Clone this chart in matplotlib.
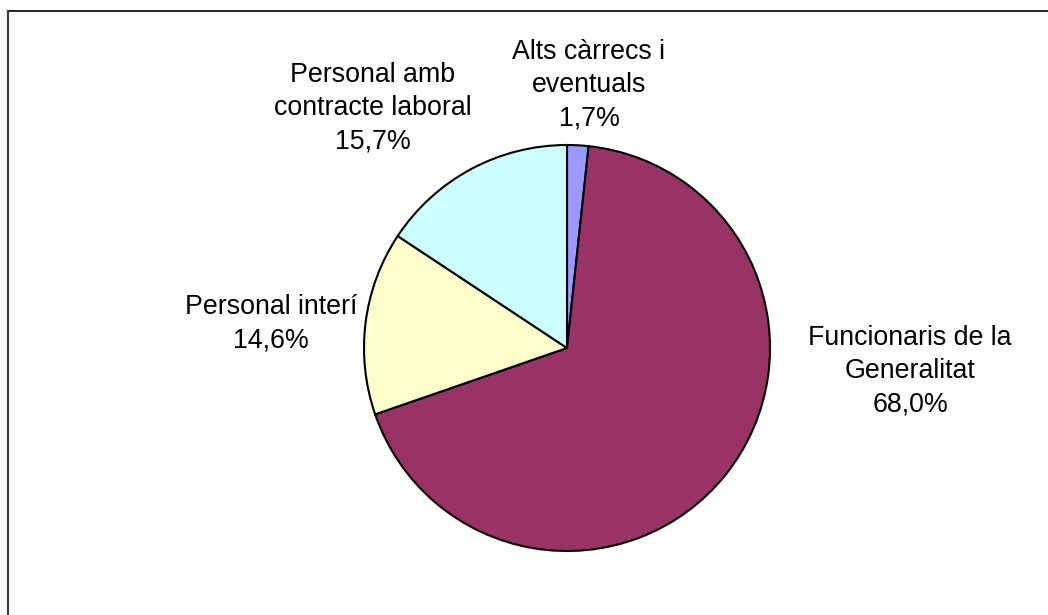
import matplotlib
matplotlib.use("Agg")
import matplotlib.pyplot as plt
from matplotlib.lines import Line2D

# data
labels = ["Alts càrrecs i\neventuals", "Funcionaris de la\nGeneralitat",
          "Personal interí", "Personal amb\ncontracte laboral"]
pct = [1.7, 68.0, 14.6, 15.7]
colors = ["#9999FF", "#993366", "#FFFFCC", "#CCFFFF"]

plt.rcParams['font.family'] = ['Liberation Sans', 'DejaVu Sans']

W, H = 1048, 615
fig = plt.figure(figsize=(W / 100, H / 100), dpi=100)
fig.set_facecolor('white')

# pie centre and radius in pixels
cx, cy, r = 567, 348, 203
ax = fig.add_axes([(cx - r) / W, (H - cy - r) / H, 2 * r / W, 2 * r / H])
ax.pie(pct, colors=colors, startangle=90, counterclock=False,
       wedgeprops={'edgecolor': 'black', 'linewidth': 1.5})
ax.set_xlim(-1, 1)
ax.set_ylim(-1, 1)
ax.axis('off')

# label positions (pixel centres)
label_pos = [(589, 85), (910, 371), (271, 324), (373, 108)]
for lab, p, (x, y) in zip(labels, pct, label_pos):
    txt = lab + "\n" + ("%.1f%%" % p).replace(".", ",")
    fig.text(x / W, 1 - y / H, txt, ha='center', va='center',
             fontsize=19.3, linespacing=1.36, color='black')

# frame edges (cropped chart area)
fig.add_artist(Line2D([7.5 / W, 1], [1 - 10.5 / H, 1 - 10.5 / H],
                      color='black', lw=1.2, transform=fig.transFigure))
fig.add_artist(Line2D([7.5 / W, 7.5 / W], [0, 1 - 10.5 / H],
                      color='#404040', lw=1.6, transform=fig.transFigure))

fig.savefig('out.png', dpi=100)
